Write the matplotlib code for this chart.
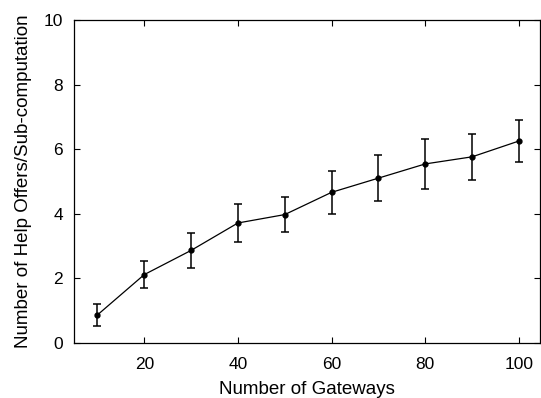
import matplotlib
matplotlib.use("Agg")
import matplotlib.pyplot as plt

plt.rcParams['font.family'] = ['Liberation Sans', 'DejaVu Sans']

gateways = [10, 20, 30, 40, 50, 60, 70, 80, 90, 100]
help_offers = [0.86, 2.11, 2.86, 3.71, 3.97, 4.66, 5.10, 5.54, 5.76, 6.25]
offer_err = [0.33, 0.43, 0.54, 0.60, 0.53, 0.66, 0.72, 0.77, 0.71, 0.64]

x_ticks = [20, 40, 60, 80, 100]
y_ticks = [0, 2, 4, 6, 8, 10]

fig = plt.figure(figsize=(5.41, 3.98), dpi=100)
ax = fig.add_axes([74 / 541, 1 - 342.7 / 398, 466 / 541, 322.7 / 398])

ax.errorbar(gateways, help_offers, yerr=offer_err, color='black', lw=0.9,
            marker='o', ms=3.5, capsize=3, elinewidth=1.1, capthick=1.1)

ax.set_xlim(5, 104.5)
ax.set_ylim(0, 10)
ax.set_xticks(x_ticks)
ax.set_yticks(y_ticks)
ax.tick_params(direction='in', top=True, right=True, length=4, width=0.8,
               labelsize=12.5)
ax.tick_params(axis='x', pad=10)
ax.tick_params(axis='y', pad=8)
for s in ax.spines.values():
    s.set_linewidth(0.9)

ax.set_xlabel('Number of Gateways', fontsize=13.5, labelpad=7)
ax.set_ylabel('Number of Help Offers/Sub-computation', fontsize=13.5, labelpad=8)

fig.savefig('out.png', dpi=100)
